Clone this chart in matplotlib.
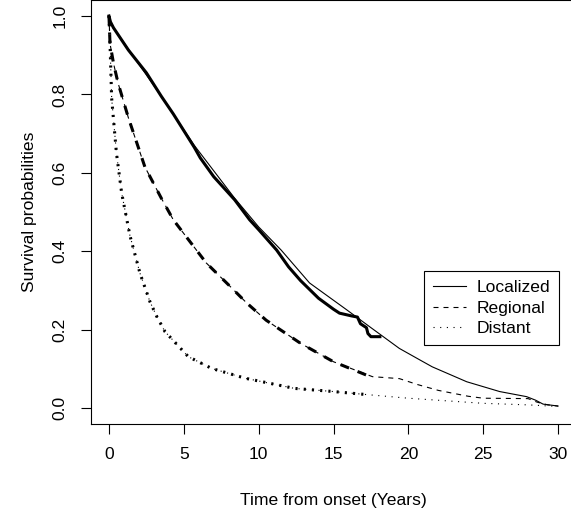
import numpy as np
import matplotlib.pyplot as plt
from matplotlib.lines import Line2D

plt.rcParams['font.family'] = ['Liberation Sans', 'DejaVu Sans']

# Kaplan-Meier (thick) and fitted (thin) survival curves
loc_km_t = [0, 0.1, 0.3, 1.3, 2.5, 3.5, 4.3, 5.7, 6.1, 7.0, 8.4, 9.4, 10.0, 11.2,
            12.0, 12.8, 14.0, 15.0, 15.4, 16.2, 16.6, 16.8, 17.2, 17.3, 17.5, 18.1]
loc_km_s = [1.0, 0.985, 0.97, 0.913, 0.855, 0.795, 0.75, 0.665, 0.638, 0.59, 0.531,
            0.48, 0.455, 0.403, 0.36, 0.325, 0.28, 0.252, 0.242, 0.235, 0.232,
            0.215, 0.205, 0.19, 0.182, 0.182]
loc_fit_t = [0, 0.1, 0.3, 1.3, 3.5, 5.7, 8.4, 10.0, 11.5, 13.4, 15.9, 17.5, 19.4,
             20.8, 21.6, 23.9, 26.1, 27.9, 28.5, 29.0, 30.0]
loc_fit_s = [1.0, 0.985, 0.97, 0.915, 0.795, 0.67, 0.535, 0.462, 0.403, 0.319,
             0.25, 0.205, 0.152, 0.122, 0.105, 0.067, 0.042, 0.029, 0.02, 0.01, 0.005]

reg_km_t = [0, 0.07, 0.3, 0.6, 1.3, 2.4, 3.5, 4.3, 5.4, 6.5, 8.1, 9.2, 10.5, 12.8,
            15.0, 17.2, 17.6]
reg_km_s = [1.0, 0.93, 0.88, 0.83, 0.74, 0.615, 0.535, 0.48, 0.425, 0.37, 0.31,
            0.268, 0.224, 0.165, 0.118, 0.084, 0.08]
reg_fit_t = [0, 0.07, 0.3, 0.6, 1.3, 2.4, 3.5, 4.3, 5.4, 6.5, 8.1, 9.2, 10.5, 12.8,
             15.0, 17.6, 19.4, 20.6, 22.0, 24.0, 25.0, 28.0, 28.6, 29.3, 30.0]
reg_fit_s = [1.0, 0.93, 0.88, 0.83, 0.74, 0.615, 0.535, 0.48, 0.425, 0.37, 0.31,
             0.268, 0.224, 0.165, 0.118, 0.08, 0.075, 0.06, 0.045, 0.03, 0.025,
             0.024, 0.015, 0.008, 0.005]

dist_km_t = [0, 0.07, 0.18, 0.5, 0.85, 1.4, 2.07, 2.74, 3.2, 3.74, 5.3, 6.86, 9.1,
             12.4, 15.0, 17.0]
dist_km_s = [1.0, 0.93, 0.79, 0.65, 0.548, 0.44, 0.344, 0.271, 0.233, 0.195, 0.131,
             0.101, 0.076, 0.05, 0.042, 0.035]
dist_fit_t = [0, 0.07, 0.18, 0.5, 0.85, 1.4, 2.07, 2.74, 3.2, 3.74, 5.3, 6.86, 9.1,
              12.4, 15.0, 17.0, 20.0, 25.0, 28.0, 30.0]
dist_fit_s = [1.0, 0.93, 0.79, 0.65, 0.548, 0.44, 0.344, 0.271, 0.233, 0.195, 0.131,
              0.101, 0.076, 0.05, 0.042, 0.035, 0.025, 0.012, 0.008, 0.004]

labels = ["Localized", "Regional", "Distant"]


def main():
    fig = plt.figure(figsize=(5.71, 5.12), dpi=100)
    ax = fig.add_axes([91 / 571, 88.3 / 512, 485 / 571, 423.4 / 512])

    thick = 2.2
    thin = 0.8
    dash_thick = (0, (3, 3))
    dash_thin = (0, (4.5, 4.5))
    dot_thick = (0, (0.7, 2.0))
    dot_thin = (0, (1, 5))
    fs = 12.6

    ax.plot(loc_km_t, loc_km_s, color="black", lw=thick, ls="-")
    ax.plot(loc_fit_t, loc_fit_s, color="black", lw=thin, ls="-")
    ax.plot(reg_km_t, reg_km_s, color="black", lw=thick, ls=dash_thick)
    ax.plot(reg_fit_t, reg_fit_s, color="black", lw=thin, ls=dash_thin)
    ax.plot(dist_km_t, dist_km_s, color="black", lw=thick, ls=dot_thick)
    ax.plot(dist_fit_t, dist_fit_s, color="black", lw=thin, ls=dot_thin)

    ax.set_xlim(-1.2, 31.2)
    ax.set_ylim(-0.04, 1.04)
    ax.set_xticks(np.arange(0, 31, 5))
    ax.set_yticks(np.arange(0, 1.01, 0.2))
    ax.set_yticklabels(["%.1f" % v for v in np.arange(0, 1.01, 0.2)],
                       rotation=90, va="center")
    ax.tick_params(direction="out", length=7, width=0.8, labelsize=fs, pad=10)
    for sp in ax.spines.values():
        sp.set_linewidth(0.8)

    ax.set_xlabel("Time from onset (Years)", fontsize=fs, labelpad=22)
    ax.set_ylabel("Survival probabilities", fontsize=fs, labelpad=11)

    handles = [Line2D([], [], color="black", lw=thin, ls="-"),
               Line2D([], [], color="black", lw=thin, ls=dash_thin),
               Line2D([], [], color="black", lw=thin, ls=dot_thin)]
    leg = ax.legend(handles, labels, loc="upper left",
                    bbox_to_anchor=(21.04, 0.349), bbox_transform=ax.transData,
                    fontsize=fs, fancybox=False, framealpha=1, edgecolor="black",
                    handlelength=1.9, handletextpad=0.6, labelspacing=0.3,
                    borderpad=0.5, borderaxespad=0)
    leg.get_frame().set_linewidth(0.8)

    fig.savefig("out.png", dpi=100)


if __name__ == "__main__":
    main()
